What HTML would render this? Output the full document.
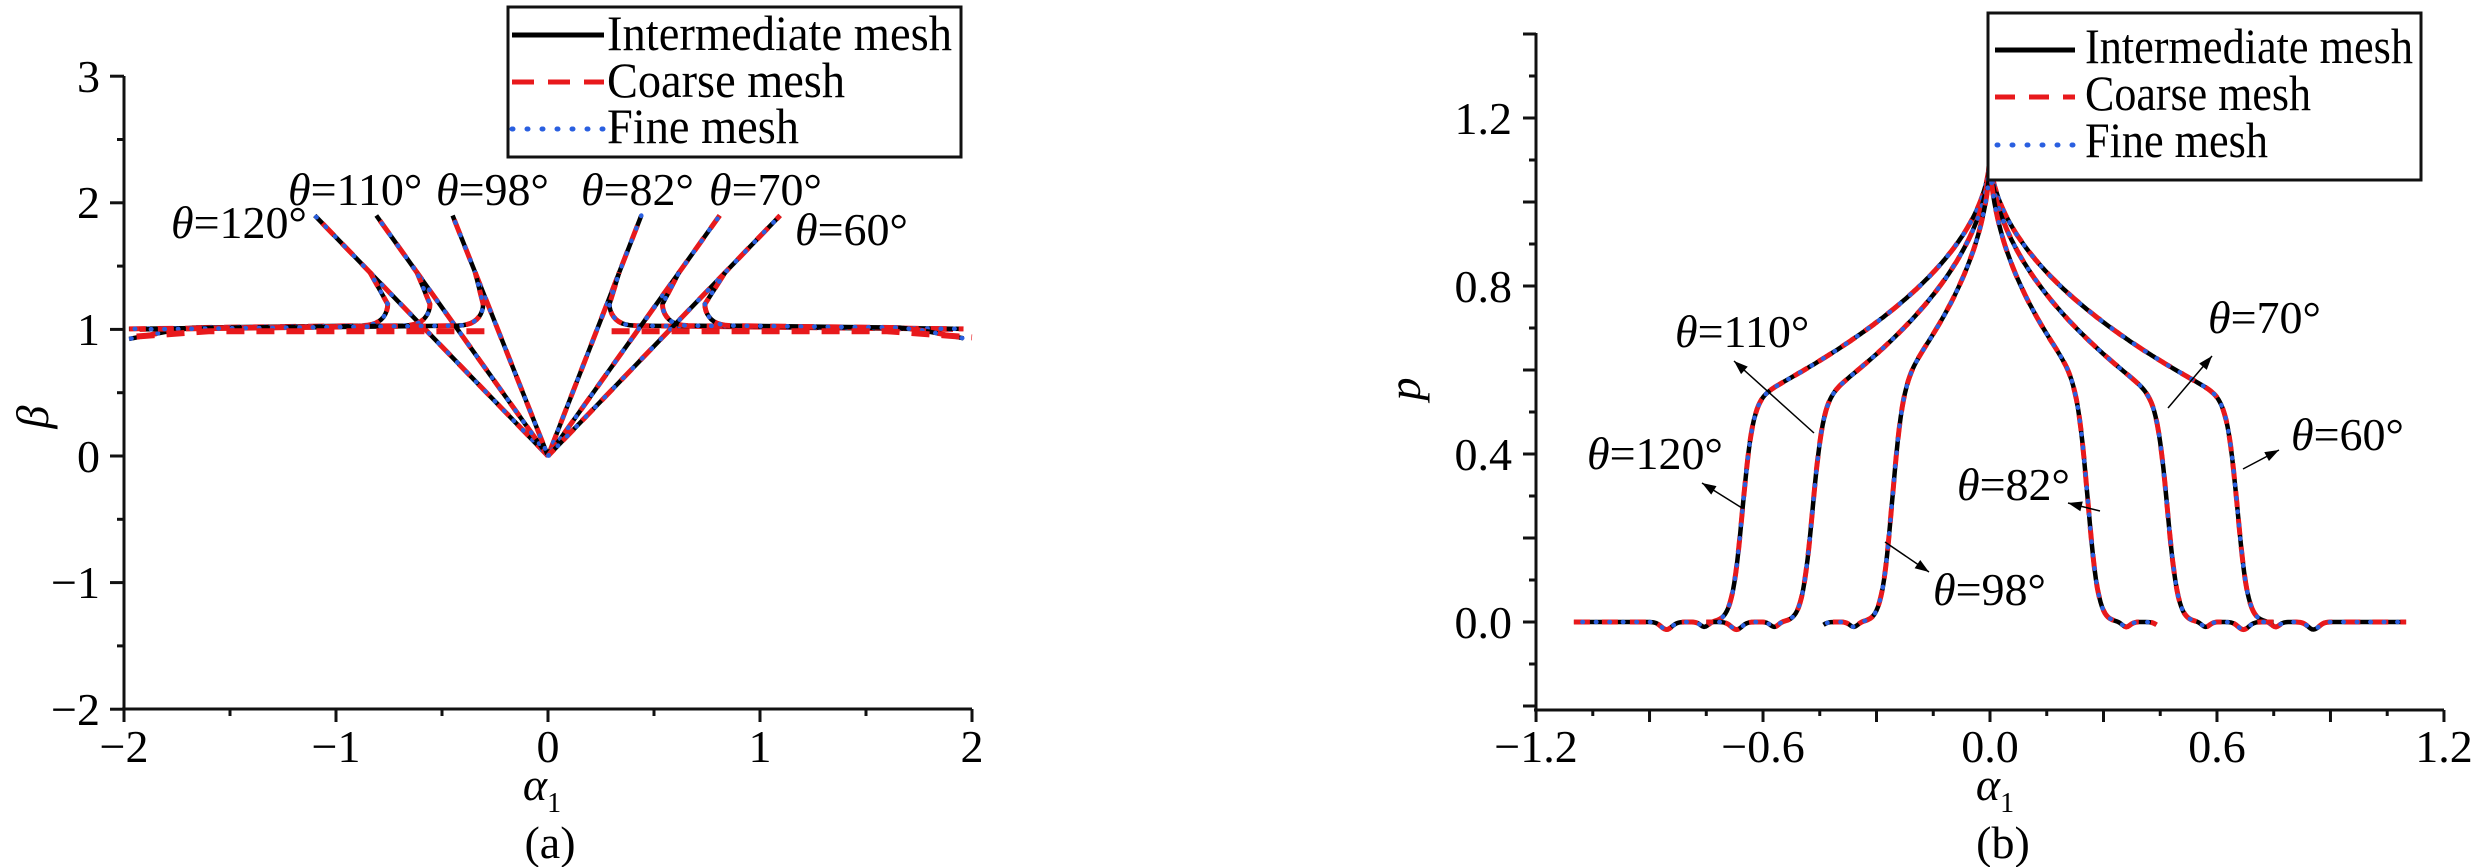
<!DOCTYPE html>
<html><head><meta charset="utf-8"><style>
html,body{margin:0;padding:0;background:#fff;}
svg{display:block;}
text{font-family:"Liberation Serif",serif;fill:#000;}
</style></head><body>
<svg id="s" width="2482" height="867" viewBox="0 0 2482 867" xmlns="http://www.w3.org/2000/svg">
<rect width="2482" height="867" fill="#fff"/>
<g id="curves"></g>
<g id="axes" stroke="#111" stroke-width="3" fill="none"></g>
<g font-size="46">
<!-- left tick labels -->
<text x="100" y="92" text-anchor="end">3</text>
<text x="100" y="218" text-anchor="end">2</text>
<text x="100" y="345" text-anchor="end">1</text>
<text x="100" y="472" text-anchor="end">0</text>
<text x="100" y="598" text-anchor="end">−1</text>
<text x="100" y="725" text-anchor="end">−2</text>
<text x="124" y="762" text-anchor="middle">−2</text>
<text x="336" y="762" text-anchor="middle">−1</text>
<text x="548" y="762" text-anchor="middle">0</text>
<text x="760" y="762" text-anchor="middle">1</text>
<text x="972" y="762" text-anchor="middle">2</text>
<text x="48" y="417" text-anchor="middle" font-style="italic" transform="rotate(-90 48 417)">β</text>
<text x="542" y="800" text-anchor="middle" font-style="italic">α<tspan font-size="28" font-style="normal" dy="12">1</tspan></text>
<text x="550" y="858" text-anchor="middle">(a)</text>
<!-- left theta labels -->
<text x="171" y="238"><tspan font-style="italic">θ</tspan>=120°</text>
<text x="288" y="205"><tspan font-style="italic">θ</tspan>=110°</text>
<text x="436" y="205"><tspan font-style="italic">θ</tspan>=98°</text>
<text x="581" y="205"><tspan font-style="italic">θ</tspan>=82°</text>
<text x="709" y="205"><tspan font-style="italic">θ</tspan>=70°</text>
<text x="795" y="245"><tspan font-style="italic">θ</tspan>=60°</text>
<!-- right tick labels -->
<text x="1512" y="134" text-anchor="end">1.2</text>
<text x="1512" y="302" text-anchor="end">0.8</text>
<text x="1512" y="470" text-anchor="end">0.4</text>
<text x="1512" y="638" text-anchor="end">0.0</text>
<text x="1536" y="762" text-anchor="middle">−1.2</text>
<text x="1763" y="762" text-anchor="middle">−0.6</text>
<text x="1990" y="762" text-anchor="middle">0.0</text>
<text x="2217" y="762" text-anchor="middle">0.6</text>
<text x="2444" y="762" text-anchor="middle">1.2</text>
<text x="1420" y="389" text-anchor="middle" font-style="italic" transform="rotate(-90 1420 389)">p</text>
<text x="1995" y="800" text-anchor="middle" font-style="italic">α<tspan font-size="28" font-style="normal" dy="12">1</tspan></text>
<text x="2003" y="858" text-anchor="middle">(b)</text>
<text x="1675" y="347"><tspan font-style="italic">θ</tspan>=110°</text>
<text x="1587" y="469"><tspan font-style="italic">θ</tspan>=120°</text>
<text x="2208" y="333"><tspan font-style="italic">θ</tspan>=70°</text>
<text x="2291" y="450"><tspan font-style="italic">θ</tspan>=60°</text>
<text x="1957" y="500"><tspan font-style="italic">θ</tspan>=82°</text>
<text x="1933" y="605"><tspan font-style="italic">θ</tspan>=98°</text>
</g>
<!-- legends -->
<g>
<rect x="508" y="7" width="453" height="150" fill="#fff" stroke="#111" stroke-width="3"/>
<line x1="512" y1="35" x2="604" y2="35" stroke="#000" stroke-width="5"/>
<line x1="512" y1="82" x2="604" y2="82" stroke="#e8191c" stroke-width="5" stroke-dasharray="22,14"/>
<line x1="512" y1="129" x2="604" y2="129" stroke="#2a5fe0" stroke-width="5" stroke-dasharray="1,14" stroke-linecap="round"/>
<text x="607" y="50" font-size="50" textLength="345" lengthAdjust="spacingAndGlyphs">Intermediate mesh</text>
<text x="607" y="97" font-size="50" textLength="238" lengthAdjust="spacingAndGlyphs">Coarse mesh</text>
<text x="607" y="143" font-size="50" textLength="192" lengthAdjust="spacingAndGlyphs">Fine mesh</text>
<rect x="1988" y="13" width="433" height="167" fill="#fff" stroke="#111" stroke-width="3"/>
<line x1="1995" y1="50" x2="2075" y2="50" stroke="#000" stroke-width="5"/>
<line x1="1995" y1="97" x2="2075" y2="97" stroke="#e8191c" stroke-width="5" stroke-dasharray="20,14"/>
<line x1="1997" y1="145" x2="2075" y2="145" stroke="#2a5fe0" stroke-width="5" stroke-dasharray="1,14" stroke-linecap="round"/>
<text x="2085" y="63" font-size="50" textLength="328" lengthAdjust="spacingAndGlyphs">Intermediate mesh</text>
<text x="2085" y="110" font-size="50" textLength="226" lengthAdjust="spacingAndGlyphs">Coarse mesh</text>
<text x="2085" y="157" font-size="50" textLength="183" lengthAdjust="spacingAndGlyphs">Fine mesh</text>
</g>
</svg>
<script>
(function(){
var NS="http://www.w3.org/2000/svg";
var axes=document.getElementById('axes'), cv=document.getElementById('curves');
function el(p,tag,a){var e=document.createElementNS(NS,tag);for(var k in a)e.setAttribute(k,a[k]);p.appendChild(e);return e;}
function ln(x1,y1,x2,y2){el(axes,'line',{x1:x1,y1:y1,x2:x2,y2:y2});}
// left axes
ln(124,76,124,710);ln(122,709,972,709);
for(var b=-2;b<=3;b+=0.5){var y=456-126.6*b;ln(Number.isInteger(b)?110:117,y,124,y);}
for(var a=-2;a<=2.001;a+=0.5){var x=548+212*a;ln(x,709,x,Number.isInteger(a)?722:716);}
// right axes
ln(1536,33,1536,711);ln(1534,710,2444,710);
for(var i=-2;i<=14;i++){var p=i/10,y=622-420*p;if(y>711)continue;ln((i%2==0)?1523:1529,y,1536,y);}
for(var i=-8;i<=8;i++){var x=1990+378.3*i*0.15;ln(x,710,x,(i%2==0)?722:716);}
function draw(pts,off){
  var d='M'+pts.map(function(q){return q[0].toFixed(1)+','+q[1].toFixed(1);}).join('L');
  el(cv,'path',{d:d,fill:'none',stroke:'#000','stroke-width':4.5,'stroke-linejoin':'round'});
  el(cv,'path',{d:d,fill:'none',stroke:'#e8191c','stroke-width':5,'stroke-dasharray':'16,12','stroke-dashoffset':off||0});
  el(cv,'path',{d:d,fill:'none',stroke:'#2a5fe0','stroke-width':4.5,'stroke-dasharray':'0.5,13','stroke-linecap':'round','stroke-dashoffset':(off||0)+5});
}
// left panel
function LX(a){return 548+212*a;}function LY(b){return 456-126.6*b;}
var th=[[-1.10,-0.756],[-0.81,-0.557],[-0.45,-0.306],[0.44,0.29],[0.81,0.54],[1.095,0.74]];
th.forEach(function(t,k){
  var tip=t[0],hk=t[1],s=Math.sign(tip);
  draw([[LX(0),LY(0)],[LX(tip),LY(1.9)]],k*7);
  // hook
  var pts=[],j=tip*1.45/1.9;
  pts.push([LX(j),LY(1.45)]);
  pts.push([LX(hk),LY(1.2)]);
  for(var u=0;u<=1.0001;u+=0.1){var a=hk+s*0.12*u*u,bb=1.2-0.17*Math.sin(u*Math.PI/2);pts.push([LX(a),LY(bb)]);}
  var a0=hk+s*0.12;
  for(var a=Math.abs(a0);a<=2.0001;a+=0.1){var bb=1.03-0.02*(a-Math.abs(a0));if(k==0||k==5){bb-= (a>1.7?(a-1.7)*0.3:0);}pts.push([LX(s*a),LY(bb)]);}
  draw(pts,k*5);
});
// red coarse horizontal slightly lower
[-1,1].forEach(function(s){var pts=[];for(var a=0.3;a<=2.0001;a+=0.1){pts.push([LX(s*a),LY(0.985-(a>1.6?(a-1.6)*0.12:0))]);}
  el(cv,'path',{d:'M'+pts.map(function(q){return q.join(',');}).join('L'),fill:'none',stroke:'#e8191c','stroke-width':6,'stroke-dasharray':'18,12'});});
// right panel
function RX(a){return 1990+378.3*a;}function RY(p){return 622-420*p;}
var prof=[[0.655,0.742,1.1],[0.47,0.88,0.75],[0.26,1.12,0.44]];
prof.forEach(function(q,k){
  var pts=[];
  for(var a=-q[2];a<=q[2]+0.0001;a+=0.004){
    var x=Math.abs(a),up=1.12-q[1]*Math.pow(x,0.5);
    var sig=1/(1+Math.exp((x-q[0])/0.014));
    var p=up*sig;
    var w=0.018*Math.exp(-Math.pow((x-q[0]-0.2)/0.02,2))+0.012*Math.exp(-Math.pow((x-q[0]-0.1)/0.015,2));
    p-=w;
    pts.push([RX(a),RY(p)]);
  }
  draw(pts,k*9);
});
// arrows
var ar=[[1814,433,1734,361],[1742,508,1702,483],[2168,408,2212,356],[2243,469,2279,450],[2100,511,2068,503],[1885,542,1929,572]];
ar.forEach(function(r){
  el(cv,'line',{x1:r[0],y1:r[1],x2:r[2],y2:r[3],stroke:'#000','stroke-width':1.5});
  var ang=Math.atan2(r[3]-r[1],r[2]-r[0]),L=14,W=5;
  var bx=r[2]-L*Math.cos(ang),by=r[3]-L*Math.sin(ang);
  var px=-Math.sin(ang)*W,py=Math.cos(ang)*W;
  el(cv,'polygon',{points:r[2]+','+r[3]+' '+(bx+px)+','+(by+py)+' '+(bx-px)+','+(by-py),fill:'#000'});
});
})();
</script>
</body></html>
